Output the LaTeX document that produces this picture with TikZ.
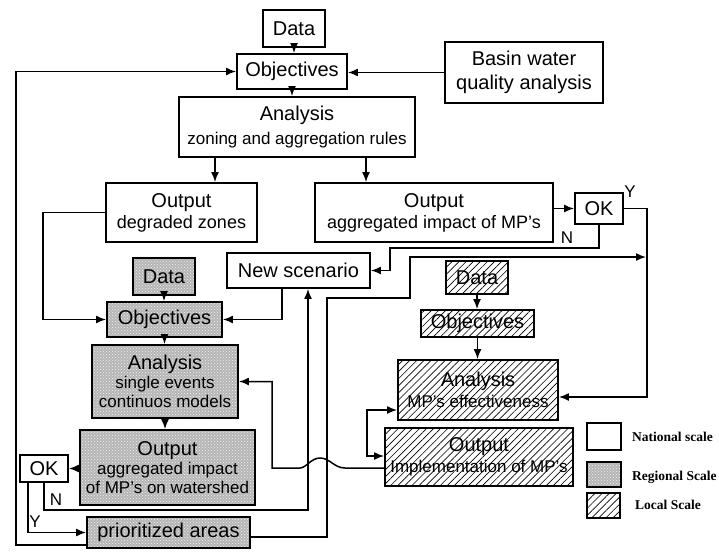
\documentclass[tikz,border=0pt]{standalone}
\usepackage{fontspec}
\setmainfont{Liberation Sans}
\newfontfamily\legendfont{Liberation Serif}
\usetikzlibrary{arrows.meta,patterns,patterns.meta,calc}

\newcommand\titlesize{\fontsize{20}{21}\selectfont}
\newcommand\subsize{\fontsize{17}{21}\selectfont}
\newcommand\outsize{\fontsize{18}{21}\selectfont}

\tikzset{
  box/.style={draw, line width=1.9pt, inner sep=0pt, align=center, font=\titlesize},
  nat/.style={box, fill=white},
  reg/.style={box, preaction={fill=gray!58}, pattern=crosshatch dots, pattern color=gray!10},
  loc/.style={box, preaction={fill=white}, pattern={Lines[angle=45,distance=5pt,line width=0.65pt]}},
  link/.style={line width=1.5pt, -{Latex[length=10pt,width=8pt]}},
  twoway/.style={line width=1.5pt, {Latex[length=10pt,width=8pt]}-{Latex[length=10pt,width=8pt]}},
  lbl/.style={font=\fontsize{17}{17}\selectfont, inner sep=0pt},
  legtext/.style={anchor=west, inner sep=0pt, font=\legendfont\bfseries\fontsize{13.5}{14}\selectfont},
}

\begin{document}
\begin{tikzpicture}[x=1pt,y=-1pt]
\useasboundingbox (0,0) rectangle (719,551);

% national scale
\node[nat, minimum width=62, minimum height=37] (dataN) at (294,28.5) {Data};
\node[nat, minimum width=110, minimum height=35] (objN) at (292,71.5) {Objectives};
\node[nat, minimum width=158, minimum height=61] (basin) at (524,72.5) {Basin water\\[3pt]quality analysis};
\node[nat, minimum width=236, minimum height=60] (anaN) at (297,127) {Analysis\\[3pt]{\subsize zoning and aggregation rules}};
\node[nat, minimum width=151, minimum height=59] (outDeg) at (181.5,212.5) {Output\\{\outsize degraded zones}};
\node[nat, minimum width=238, minimum height=59] (outAgg) at (434,212.5) {Output\\{\outsize aggregated impact of MP's}};
\node[nat, minimum width=48, minimum height=31] (okN) at (599,208.5) {OK};
\node[nat, minimum width=143, minimum height=35] (newSc) at (298.5,270.5) {New scenario};

% regional scale
\node[reg, minimum width=62, minimum height=37] (dataR) at (164,276.5) {Data};
\node[reg, minimum width=115, minimum height=35] (objR) at (164.5,319.5) {Objectives};
\node[reg, minimum width=146, minimum height=73] (anaR) at (165,381.5) {Analysis\\[-2pt]{\subsize single events}\\[-2pt]{\subsize continuos models}};
\node[reg, minimum width=175, minimum height=75] (outR) at (167.5,467.5) {Output\\[-2pt]{\subsize aggregated impact}\\[-2pt]{\subsize of MP's on watershed}};
\node[nat, minimum width=48, minimum height=27] (okR) at (44,468.5) {OK};
\node[reg, minimum width=163, minimum height=31] (prio) at (168.5,532.5) {prioritized areas};

% local scale
\node[loc, minimum width=62, minimum height=33] (dataL) at (477,277.5) {Data};
\node[loc, minimum width=113, minimum height=27] (objL) at (477.5,323.5) {Objectives};
\node[loc, minimum width=160, minimum height=60] (anaL) at (478,390) {Analysis\\{\subsize MP's effectiveness}};
\node[loc, minimum width=188, minimum height=58] (outL) at (479,457) {Output\\{\subsize Implementation of MP's}};

% legend
\node[nat, minimum width=34, minimum height=27] (legN) at (604,436.5) {};
\node[reg, minimum width=34, minimum height=25] (legR) at (604,474.5) {};
\node[loc, minimum width=33, minimum height=25] (legL) at (603.5,505.5) {};
\node[legtext] (tN) at (632,437) {National scale};
\node[legtext] (tR) at (632,477) {Regional Scale};
\node[legtext] (tL) at (635,505) {Local Scale};

% helper points
\coordinate (aD) at ([xshift=33.5pt]outDeg.north);
\coordinate (aA) at ([xshift=-68pt]outAgg.north);
\coordinate (yTurn) at (647,208.5);
\coordinate (anaLin) at ([yshift=-7pt]anaL.east);
\coordinate (nTurn) at (390,248);
\coordinate (pA) at (327,298);
\coordinate (pB) at (410,257);
\coordinate (pC) at (646,257);
\coordinate (prioOut) at ([yshift=-4.5pt]prio.east);
\coordinate (nsOut) at ([xshift=-16.5pt]newSc.south);
\coordinate (dTurn) at (43,212.5);
\coordinate (mTurn) at (308,510);
\coordinate (okY) at ([xshift=-16pt]okR.south);
\coordinate (prioBack) at ([yshift=-12.5pt]prio.west);
\coordinate (oCorner) at (16,545);
\coordinate (outLin) at ([yshift=-11pt]outL.west);
\coordinate (hR) at (345,468);
\coordinate (hL) at (300,468);
\coordinate (hT) at (272,468);
\coordinate (lTop) at ([yshift=-20pt]anaL.west);
\coordinate (lBot) at ([yshift=1pt]outL.west);
\coordinate (lSide) at (367,433);

% national flow
\draw[link] (dataN.south) -- (objN.north -| dataN.south);
\draw[link] (objN.south) -- (anaN.north -| objN.south);
\draw[link] (basin.west) -- (basin.west -| objN.east);
\draw[link] (aD |- anaN.south) -- (aD);
\draw[link] (aA |- anaN.south) -- (aA);
\draw[link] (okN.west -| outAgg.east) -- (okN.west);
\draw[link] (okN.east) -- (okN.east -| yTurn) |- (anaLin);
\node[lbl] (yL) at (630,192) {Y};
\draw[link] (okN.south) |- (nTurn) |- (newSc.east);
\node[lbl] (nL) at (567,238) {N};
\draw[link] (prioOut) -| (pA) -| (pB) -- (pC);

% regional flow
\draw[link] (nsOut) |- (objR.east);
\draw[link] (outDeg.west) -- (dTurn) |- (objR.west);
\draw[link] (dataR.south) -- (dataR.south |- objR.north);
\draw[link] (objR.south) -- (objR.south |- anaR.north);
\draw[link] (anaR.south) -- (anaR.south |- outR.north);
\draw[link] (okR.east -| outR.west) -- (okR.east);
\draw[link] (okR.south) |- (mTurn) -- (mTurn |- newSc.south);
\node[lbl] (nL2) at (56,500) {N};
\draw[link] (okY) |- (prio.west);
\node[lbl] (yL2) at (35,522) {Y};
\draw[link] (prioBack) -- (oCorner) |- (objN.west);

% local flow
\draw[link] (dataL.south) -- (dataL.south |- objL.north);
\draw[link] (objL.south) -- (objL.south |- anaL.north);
\draw[twoway] (lTop) -| (lSide) |- (lBot);
\draw[link] (outLin) -- (hR) .. controls (334,468) and (330,458) .. (320,458) .. controls (311,458) and (306,468) .. (hL) -- (hT) |- (anaR.east);

\end{tikzpicture}
\end{document}
